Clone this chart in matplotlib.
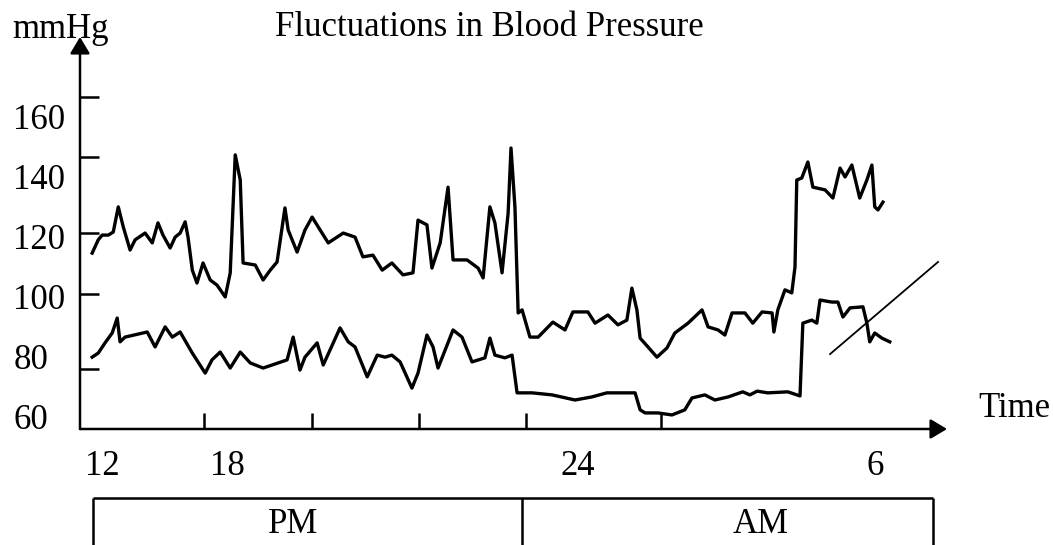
import matplotlib
matplotlib.use("Agg")
import matplotlib.pyplot as plt

plt.rcParams['font.family'] = ['Liberation Serif', 'DejaVu Serif']

# time in hours from noon (24 = midnight), pressure in mmHg
systolic_t = [11.87, 12.04, 12.15, 12.32, 12.46, 12.60, 12.74, 12.93, 13.07, 13.35,
              13.55, 13.71, 13.85, 14.05, 14.19, 14.33, 14.47, 14.55, 14.67, 14.80,
              14.97, 15.17, 15.36, 15.59, 15.73, 15.87, 16.01, 16.09, 16.43, 16.65,
              16.85, 17.04, 17.26, 17.35, 17.60, 17.82, 18.02, 18.19, 18.47, 18.89,
              19.22, 19.44, 19.72, 19.98, 20.25, 20.56, 20.84, 20.98, 21.23, 21.37,
              21.60, 21.82, 21.96, 22.35, 22.66, 22.80, 22.99, 23.13, 23.33, 23.50,
              23.58, 23.69, 23.78, 23.89, 24.11, 24.34, 24.75, 25.09, 25.31, 25.73,
              25.93, 26.29, 26.57, 26.82, 26.96, 27.10, 27.19, 27.41, 27.66, 27.94,
              28.16, 28.53, 28.92, 29.09, 29.37, 29.56, 29.76, 30.12, 30.34, 30.60,
              30.88, 30.93, 31.04, 31.24, 31.43, 31.52, 31.57, 31.71, 31.88, 32.02,
              32.36, 32.58, 32.78, 32.92, 33.11, 33.33, 33.53, 33.67, 33.75, 33.84,
              33.98]
systolic = [113.2, 117.1, 118.5, 118.5, 119.4, 126.8, 120.9, 114.1, 117.1, 119.1,
            116.2, 122.1, 118.5, 114.7, 117.9, 119.1, 122.4, 117.9, 108.2, 104.4,
            110.3, 105.3, 103.8, 100.3, 107.4, 142.1, 134.7, 110.3, 109.7, 105.3,
            108.2, 110.6, 126.5, 120.0, 113.5, 120.0, 123.8, 120.9, 116.2, 119.1,
            117.9, 112.1, 112.6, 108.2, 110.3, 106.8, 107.4, 122.9, 121.5, 108.8,
            116.2, 132.6, 111.2, 111.2, 108.8, 105.9, 126.8, 122.1, 107.4, 125.0,
            144.1, 126.8, 95.6, 96.5, 88.5, 88.5, 92.9, 90.6, 95.9, 95.9,
            92.6, 95.0, 92.1, 93.5, 102.9, 96.5, 88.2, 85.6, 82.6, 85.3,
            89.7, 92.6, 96.5, 91.5, 90.6, 89.1, 95.6, 95.6, 92.6, 95.9,
            95.6, 90.0, 96.5, 102.4, 101.5, 109.1, 134.7, 135.3, 140.0, 132.6,
            131.8, 129.4, 138.2, 135.6, 139.1, 129.4, 134.7, 139.1, 126.8, 125.9,
            128.2]

diastolic_t = [11.87, 12.04, 12.23, 12.43, 12.57, 12.65, 12.79, 13.41, 13.63, 13.91,
               14.11, 14.33, 14.67, 15.03, 15.22, 15.45, 15.73, 16.01, 16.29, 16.65,
               17.07, 17.32, 17.49, 17.68, 17.82, 18.16, 18.33, 18.52, 18.80, 19.03,
               19.22, 19.56, 19.84, 20.06, 20.25, 20.48, 20.81, 20.98, 21.23, 21.40,
               21.54, 21.96, 22.21, 22.49, 22.85, 22.99, 23.13, 23.41, 23.61, 23.75,
               24.17, 24.73, 25.37, 25.84, 26.26, 27.05, 27.19, 27.33, 27.69, 28.08,
               28.44, 28.64, 29.00, 29.28, 29.65, 30.06, 30.26, 30.46, 30.76, 31.32,
               31.66, 31.74, 31.99, 32.13, 32.22, 32.55, 32.72, 32.86, 33.06, 33.42,
               33.53, 33.61, 33.75, 33.95, 34.17]
diastolic = [82.6, 83.8, 86.8, 89.7, 94.1, 87.1, 88.5, 90.0, 85.6, 91.5,
             88.5, 90.0, 83.8, 77.9, 81.8, 84.1, 79.4, 84.1, 80.9, 79.4,
             80.9, 81.8, 88.5, 78.8, 82.6, 86.8, 80.3, 84.7, 91.2, 87.1,
             85.6, 76.8, 83.2, 82.6, 83.2, 81.2, 73.5, 77.9, 89.1, 85.6,
             79.4, 90.6, 88.5, 81.2, 82.4, 88.2, 83.2, 82.4, 83.2, 72.1,
             72.1, 71.5, 70.0, 70.9, 72.1, 72.1, 67.1, 66.2, 66.2, 65.6,
             67.1, 70.6, 71.5, 70.0, 70.9, 72.4, 71.5, 72.6, 72.1, 72.4,
             71.2, 92.6, 93.5, 92.6, 99.4, 98.8, 98.8, 94.4, 97.1, 97.4,
             92.6, 87.1, 89.7, 88.2, 87.1]

# the slanted stroke near the end of the recording
stroke_t = [32.50, 35.52]
stroke_v = [83.5, 110.6]

# tick marks and label positions as drawn in the original
x_marks = [15.0, 18.02, 21.01, 24.0, 27.77]
x_label_pos = [12.15, 15.64, 25.45, 33.75]
x_labels = ["12", "18", "24", "6"]
y_marks = [159.1, 141.5, 119.1, 101.2, 79.1]
y_label_pos = [153.4, 135.7, 118.1, 100.4, 82.8, 65.1]
y_labels = ["160", "140", "120", "100", "80", "60"]

# PM / AM band under the axis
period_edges = [11.9, 23.89, 35.38]
period_names = ["PM", "AM"]
period_text_pos = [17.49, 30.57]

W, H = 1053, 545
fig = plt.figure(figsize=(W / 100, H / 100), dpi=100)
ax = fig.add_axes([80 / W, (H - 429) / H, 867 / W, 392 / H])
ax.set_xlim(11.53, 35.77)
ax.set_ylim(61.47, 176.76)
for s in ax.spines.values():
    s.set_visible(False)

lw_axis = 1.8
ax.annotate('', xy=(1, 0), xytext=(0, 0), xycoords='axes fraction',
            arrowprops=dict(arrowstyle='-|>,head_length=0.5,head_width=0.3',
                            color='black', lw=lw_axis, shrinkA=0, shrinkB=0,
                            mutation_scale=20))
ax.annotate('', xy=(0, 1), xytext=(0, 0), xycoords='axes fraction',
            arrowprops=dict(arrowstyle='-|>,head_length=0.5,head_width=0.3',
                            color='black', lw=lw_axis, shrinkA=0, shrinkB=0,
                            mutation_scale=20))

ax.plot(systolic_t, systolic, color='black', lw=2.4, solid_joinstyle='round')
ax.plot(diastolic_t, diastolic, color='black', lw=2.4, solid_joinstyle='round')
ax.plot(stroke_t, stroke_v, color='black', lw=1.3)

ax.set_xticks(x_label_pos)
ax.set_xticklabels(x_labels)
ax.set_xticks(x_marks, minor=True)
ax.set_yticks(y_label_pos)
ax.set_yticklabels(y_labels)
ax.set_yticks(y_marks, minor=True)
ax.tick_params(which='major', length=0, labelsize=25)
ax.tick_params(axis='x', which='major', pad=15)
ax.tick_params(axis='y', which='major', pad=48)
ax.tick_params(axis='x', which='minor', direction='in', length=11.5, width=lw_axis)
ax.tick_params(axis='y', which='minor', direction='in', length=13.5, width=lw_axis)
for lbl in ax.get_yticklabels():
    lbl.set_ha('left')

fig.text(12 / W, (H - 38) / H, "mmHg", fontsize=25, va='baseline', ha='left')
fig.text(275 / W, (H - 36) / H, "Fluctuations in Blood Pressure", fontsize=25,
         va='baseline', ha='left')
fig.text(978 / W, (H - 417) / H, "Time", fontsize=25, va='baseline', ha='left')

# PM / AM boxes
band = fig.add_axes([80 / W, 0, 867 / W, (H - 498) / H])
band.set_xlim(ax.get_xlim())
band.set_ylim(0, 1)
band.axis('off')
band.vlines(period_edges, -0.5, 1, color='black', lw=lw_axis, clip_on=False)
band.hlines(1, period_edges[0], period_edges[-1], color='black', lw=lw_axis, clip_on=False)
for x, name in zip(period_text_pos, period_names):
    band.text(x, 0.43, name, fontsize=25, ha='center', va='center')

fig.savefig("out.png", dpi=100)
